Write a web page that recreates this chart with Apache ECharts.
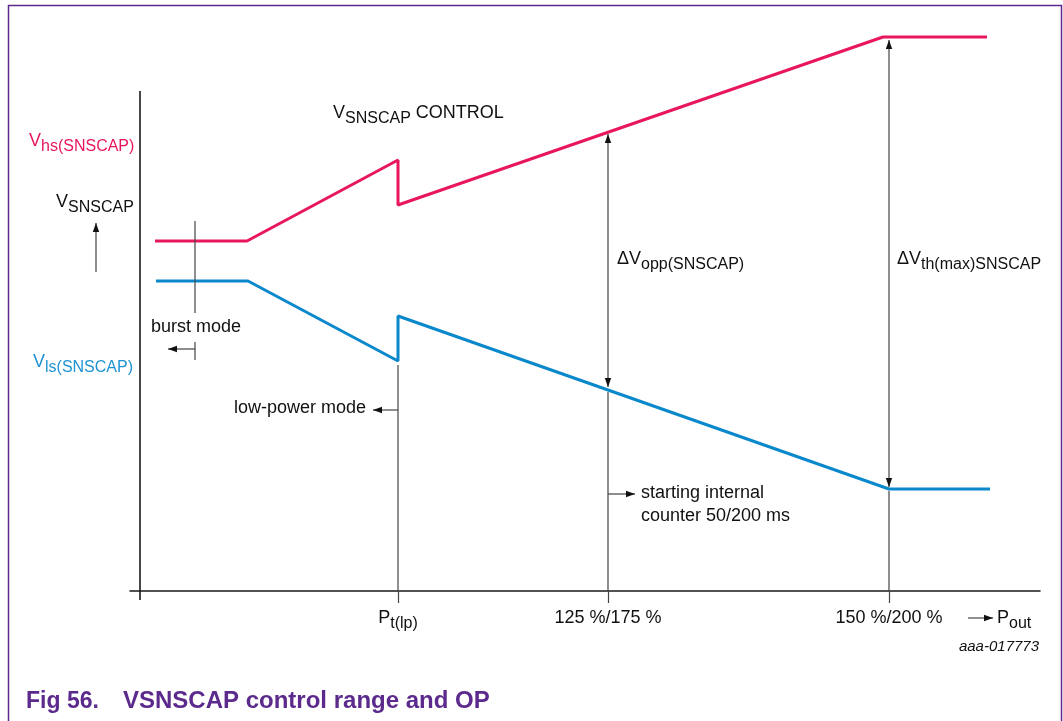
<!DOCTYPE html>
<html>
<head>
<meta charset="utf-8">
<script src="https://cdn.jsdelivr.net/npm/echarts@6/dist/echarts.min.js"></script>
<style>
  html, body { margin: 0; padding: 0; background: #ffffff; }
  #chart { width: 1063px; height: 721px; }
</style>
</head>
<body>
<div id="chart"></div>
<script>
// Output power (arbitrary units) against the two SNSCAP thresholds
const hsX = [1.5, 10.7, 25.8, 25.8, 74.3, 84.7];
const hsY = [35.0, 35.0, 43.1, 38.6, 55.4, 55.4];
const lsX = [1.6, 10.8, 25.8, 25.8, 74.9, 85.0];
const lsY = [31.0, 31.0, 23.0, 27.5, 10.2, 10.2];

// Operating points marked on the Pout axis
const tickValues = [25.8, 46.8, 74.9];
const tickLabels = ['{m|P}{s|t(lp)}', '{m|125 %/175 %}', '{m|150 %/200 %}'];

const RED = '#e8175d';
const BLUE = '#0a88cc';
const BLUE_TEXT = '#1e93d4';
const PURPLE = '#5c2a8c';
const FONT = '"Liberation Sans", Arial, Helvetica, sans-serif';

const rich = {
  m: { fontSize: 18, fontFamily: FONT, lineHeight: 28 },
  s: { fontSize: 16, fontFamily: FONT, lineHeight: 28, padding: [12, 0, 0, 0] }
};

// Guide lines and arrows: x1, y1, x2, y2, head at start, head at end, kind (1 = axis)
const segments = [
  [0, -0.9, 0, 50, 0, 0, 1],
  [-4.4, 31.9, -4.4, 36.8, 0, 1, 0],
  [5.5, 27.8, 5.5, 37.0, 0, 0, 0],
  [5.5, 23.1, 5.5, 24.9, 0, 0, 0],
  [5.5, 24.2, 2.8, 24.2, 0, 1, 0],
  [25.8, 0, 25.8, 22.6, 0, 0, 0],
  [25.8, 18.1, 23.3, 18.1, 0, 1, 0],
  [46.8, 0, 46.8, 19.9, 0, 0, 0],
  [46.8, 20.4, 46.8, 45.7, 1, 1, 0],
  [46.8, 9.7, 49.5, 9.7, 0, 1, 0],
  [74.9, 0, 74.9, 10.0, 0, 0, 0],
  [74.9, 10.4, 74.9, 55.1, 1, 1, 0],
  [82.8, -2.7, 85.3, -2.7, 0, 1, 0]
];

// Text annotations placed in data units
const notes = [
  { at: [-11.1, 45.0], text: '{m|V}{s|hs(SNSCAP)}', color: RED, align: 'left' },
  { at: [-8.4, 38.9], text: '{m|V}{s|SNSCAP}', color: '#111', align: 'left' },
  { at: [-10.7, 22.9], text: '{m|V}{s|ls(SNSCAP)}', color: BLUE_TEXT, align: 'left' },
  { at: [19.3, 47.8], text: '{m|V}{s|SNSCAP}{m| CONTROL}', color: '#111', align: 'left' },
  { at: [47.7, 33.2], text: '{m|ΔV}{s|opp(SNSCAP)}', color: '#111', align: 'left' },
  { at: [75.7, 33.2], text: '{m|ΔV}{s|th(max)SNSCAP}', color: '#111', align: 'left' },
  { at: [1.1, 26.4], text: '{m|burst mode}', color: '#111', align: 'left' },
  { at: [22.6, 18.3], text: '{m|low-power mode}', color: '#111', align: 'right' },
  { at: [50.1, 9.8], text: '{c|starting internal}\n{c|counter 50/200 ms}', color: '#111', align: 'left', vAlign: 'top', dy: -11 },
  { at: [85.7, -2.7], text: '{m|P}{s|out}', color: '#111', align: 'left' },
  { at: [89.9, -5.6], text: '{i|aaa-017773}', color: '#111', align: 'right' }
];

const noteRich = Object.assign({}, rich, {
  c: { fontSize: 18, fontFamily: FONT, lineHeight: 23 },
  i: { fontSize: 15, fontFamily: FONT, fontStyle: 'italic', lineHeight: 20 }
});

function arrowHead(tip, from) {
  const dx = tip[0] - from[0];
  const dy = tip[1] - from[1];
  const len = Math.hypot(dx, dy) || 1;
  const ux = dx / len, uy = dy / len;
  const L = 9, W = 3.2;
  const bx = tip[0] - ux * L, by = tip[1] - uy * L;
  return {
    type: 'polygon',
    shape: { points: [tip, [bx - uy * W, by + ux * W], [bx + uy * W, by - ux * W]] },
    style: { fill: '#111' }
  };
}

function renderSegment(params, api) {
  const p1 = api.coord([api.value(0), api.value(1)]);
  const p2 = api.coord([api.value(2), api.value(3)]);
  const isAxis = api.value(6) === 1;
  const children = [{
    type: 'line',
    shape: { x1: p1[0], y1: p1[1], x2: p2[0], y2: p2[1] },
    style: { stroke: isAxis ? '#1a1a1a' : '#444', lineWidth: isAxis ? 1.6 : 1.2 }
  }];
  if (api.value(4) === 1) children.push(arrowHead(p1, p2));
  if (api.value(5) === 1) children.push(arrowHead(p2, p1));
  return { type: 'group', children: children };
}

function renderNote(params, api) {
  const n = notes[params.dataIndex];
  const p = api.coord([api.value(0), api.value(1)]);
  return {
    type: 'text',
    x: p[0],
    y: p[1] + (n.dy || 0),
    style: {
      text: n.text,
      rich: noteRich,
      fill: n.color,
      align: n.align,
      verticalAlign: n.vAlign || 'middle',
      font: '18px ' + FONT
    }
  };
}

const chart = echarts.init(document.getElementById('chart'), null, { renderer: 'canvas' });

chart.setOption({
  animation: false,
  backgroundColor: '#ffffff',
  grid: { left: 130, right: 23, top: 31, bottom: 130, containLabel: false },
  xAxis: {
    type: 'value',
    min: -1,
    max: 90,
    splitLine: { show: false },
    axisLine: { show: true, onZero: false, lineStyle: { color: '#1a1a1a', width: 1.6 } },
    axisTick: { show: true, customValues: tickValues, length: 12, lineStyle: { color: '#444', width: 1.2 } },
    axisLabel: {
      show: true,
      customValues: tickValues,
      margin: 13,
      color: '#111',
      rich: rich,
      formatter: function (v) {
        const i = tickValues.indexOf(v);
        return i >= 0 ? tickLabels[i] : '';
      }
    }
  },
  yAxis: {
    type: 'value',
    min: 0,
    max: 56,
    show: false
  },
  graphic: [
    {
      type: 'polyline',
      shape: { points: [[8.5, 725], [8.5, 5.5], [1061.5, 5.5], [1061.5, 725]] },
      style: { stroke: PURPLE, lineWidth: 1.5, fill: null },
      silent: true
    },
    {
      type: 'text', left: 26, top: 690,
      style: { text: 'Fig 56.', font: 'bold 23px ' + FONT, fill: PURPLE }
    },
    {
      type: 'text', left: 123, top: 689,
      style: { text: 'VSNSCAP control range and OP', font: 'bold 24px ' + FONT, fill: PURPLE }
    }
  ],
  series: [
    {
      name: 'Vhs(SNSCAP)',
      type: 'line',
      data: hsX.map((x, i) => [x, hsY[i]]),
      showSymbol: false,
      clip: false,
      lineStyle: { color: RED, width: 3 },
      itemStyle: { color: RED },
      z: 3
    },
    {
      name: 'Vls(SNSCAP)',
      type: 'line',
      data: lsX.map((x, i) => [x, lsY[i]]),
      showSymbol: false,
      clip: false,
      lineStyle: { color: BLUE, width: 3 },
      itemStyle: { color: BLUE },
      z: 3
    },
    {
      type: 'custom',
      renderItem: renderSegment,
      data: segments,
      encode: { x: [0, 2], y: [1, 3] },
      clip: false,
      silent: true,
      z: 4
    },
    {
      type: 'custom',
      renderItem: renderNote,
      data: notes.map(n => n.at),
      encode: { x: 0, y: 1 },
      clip: false,
      silent: true,
      z: 5
    }
  ]
});
</script>
</body>
</html>
